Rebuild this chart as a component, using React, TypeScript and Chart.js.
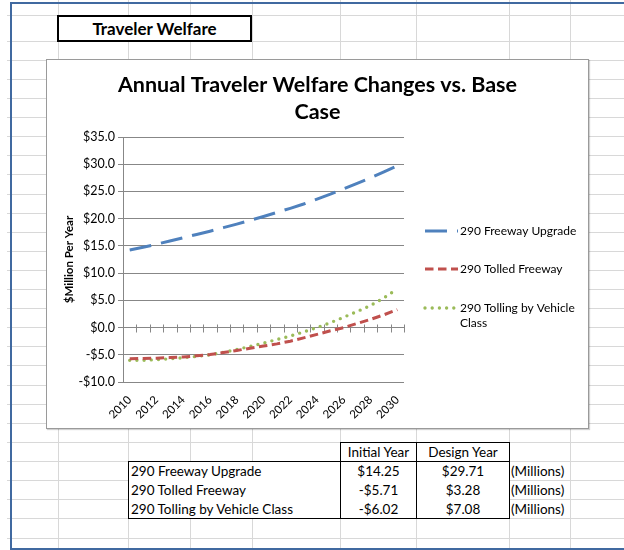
import React, { useEffect, useRef } from "react";
import { Chart, registerables } from "chart.js";

Chart.register(...registerables);

// ---------- data ----------
const years = [
  "2010", "2011", "2012", "2013", "2014", "2015", "2016", "2017", "2018", "2019", "2020",
  "2021", "2022", "2023", "2024", "2025", "2026", "2027", "2028", "2029", "2030",
];
const freewayUpgrade = [
  14.25, 14.75, 15.3, 15.9, 16.5, 17.1, 17.7, 18.35, 19.0, 19.7, 20.4,
  21.15, 21.9, 22.7, 23.6, 24.5, 25.5, 26.5, 27.5, 28.6, 29.71,
];
const tolledFreeway = [
  -5.71, -5.68, -5.62, -5.52, -5.4, -5.2, -4.95, -4.6, -4.2, -3.8, -3.4,
  -3.0, -2.5, -1.9, -1.25, -0.6, 0.0, 0.75, 1.5, 2.35, 3.28,
];
const tollingByVehicleClass = [
  -6.02, -6.0, -5.9, -5.75, -5.55, -5.3, -5.0, -4.55, -4.05, -3.45, -2.85,
  -2.2, -1.55, -0.8, 0.0, 0.9, 1.9, 2.95, 4.05, 5.45, 7.08,
];
const seriesNames = ["290 Freeway Upgrade", "290 Tolled Freeway", "290 Tolling by Vehicle Class"];
const initialYear = [14.25, -5.71, -6.02];
const designYear = [29.71, 3.28, 7.08];
const yMin = -10;
const yMax = 35;
const yStep = 5;
const chartTitle = ["Annual Traveler Welfare Changes vs. Base", "Case"];
const yAxisTitle = "$Million Per Year";
const sheetTitle = "Traveler Welfare";
const tableHeaders = ["Initial Year", "Design Year"];
const unitLabel = "(Millions)";

// ---------- styles ----------
const FONT = "Lato, 'Noto Sans', sans-serif";
const GRID = "#878787";
const seriesStyles = [
  { color: "#4F81BD", dash: [22, 10], cap: "butt" as CanvasLineCap, width: 3 },
  { color: "#C0504D", dash: [8.5, 4.5], cap: "butt" as CanvasLineCap, width: 3 },
  { color: "#9BBB59", dash: [0, 7.2], cap: "round" as CanvasLineCap, width: 3.4 },
];
const rowLines = [15, 41, 60, 79, 98, 117, 136, 155, 174, 194, 213, 232, 251, 270, 289, 308, 327, 346, 365, 385, 404, 423, 442, 461, 480, 499, 518, 538];
const colLines = [58, 128, 190, 252, 340, 416, 509, 570];

const money = (v: number, d: number) => (v < 0 ? "-$" : "$") + Math.abs(v).toFixed(d);

const titlePlugin = {
  id: "customTitle",
  afterDraw(chart: any) {
    const ctx = chart.ctx;
    ctx.save();
    ctx.fillStyle = "#000";
    ctx.font = `bold 21.5px ${FONT}`;
    ctx.textAlign = "center";
    ctx.textBaseline = "middle";
    chartTitle.forEach((t, i) => ctx.fillText(t, chart.width / 2, 25 + i * 27));
    ctx.restore();
  },
};

const zeroTicksPlugin = {
  id: "zeroTicks",
  beforeDatasetsDraw(chart: any) {
    const { ctx } = chart;
    const x = chart.scales.x;
    const y = chart.scales.y;
    const y0 = Math.round(y.getPixelForValue(0)) + 0.5;
    const n = years.length;
    const step = (x.right - x.left) / n;
    ctx.save();
    ctx.strokeStyle = GRID;
    ctx.lineWidth = 1;
    ctx.beginPath();
    for (let i = 1; i <= n; i++) {
      const px = Math.round(x.left + step * i) + 0.5;
      ctx.moveTo(px, y0 - 4);
      ctx.lineTo(px, y0 + 4);
    }
    ctx.stroke();
    ctx.restore();
  },
};

const legendPlugin = {
  id: "customLegend",
  afterDraw(chart: any) {
    const { ctx, chartArea } = chart;
    const x0 = chartArea.right + 21;
    const tx = chartArea.right + 56;
    const offsets = [94, 132, 171];
    ctx.save();
    ctx.font = `12px ${FONT}`;
    ctx.textBaseline = "middle";
    ctx.textAlign = "left";
    chart.data.datasets.forEach((ds: any, i: number) => {
      const y = chartArea.top + offsets[i];
      const st = seriesStyles[i];
      ctx.save();
      ctx.strokeStyle = st.color;
      ctx.lineWidth = st.width;
      ctx.lineCap = st.cap;
      ctx.setLineDash(st.dash);
      ctx.beginPath();
      ctx.moveTo(x0, y);
      ctx.lineTo(x0 + 33, y);
      ctx.stroke();
      ctx.restore();
      const words = String(ds.label).split(" ");
      const lines: string[] = [];
      let cur = "";
      words.forEach((w) => {
        const test = cur ? cur + " " + w : w;
        if (ctx.measureText(test).width > 124 && cur) {
          lines.push(cur);
          cur = w;
        } else cur = test;
      });
      if (cur) lines.push(cur);
      ctx.fillStyle = "#000";
      lines.forEach((l, k) => ctx.fillText(l, tx, y + k * 15));
    });
    ctx.restore();
  },
};

function ChartBox() {
  const ref = useRef<HTMLCanvasElement | null>(null);
  useEffect(() => {
    if (!ref.current) return;
    const series = [freewayUpgrade, tolledFreeway, tollingByVehicleClass];
    const chart = new Chart(ref.current, {
      type: "line",
      data: {
        labels: years,
        datasets: series.map((d, i) => ({
          label: seriesNames[i],
          data: d,
          borderColor: seriesStyles[i].color,
          backgroundColor: seriesStyles[i].color,
          borderWidth: seriesStyles[i].width,
          borderDash: seriesStyles[i].dash,
          borderCapStyle: seriesStyles[i].cap,
          pointRadius: 0,
          tension: 0,
          fill: false,
        })),
      },
      options: {
        animation: false,
        responsive: true,
        maintainAspectRatio: false,
        layout: { padding: { top: 77, right: 184, left: 0, bottom: 0 } },
        plugins: { legend: { display: false }, title: { display: false }, tooltip: { enabled: false } },
        scales: {
          x: {
            type: "category",
            offset: true,
            grid: { display: false },
            border: { display: false },
            ticks: {
              autoSkip: false,
              maxRotation: 45,
              minRotation: 45,
              padding: 3,
              color: "#000",
              font: { family: FONT, size: 11.5 },
              callback: (_v: any, idx: number) => (idx % 2 === 0 ? years[idx] : ""),
            },
            afterFit: (s: any) => {
              s.height = 46;
            },
          },
          y: {
            min: yMin,
            max: yMax,
            grid: { color: GRID, tickLength: 5, drawTicks: true },
            border: { display: true, color: GRID },
            ticks: {
              stepSize: yStep,
              padding: 3,
              color: "#000",
              font: { family: FONT, size: 12.5 },
              callback: (v: any) => money(Number(v), 1),
            },
            title: {
              display: true,
              text: yAxisTitle,
              color: "#000",
              font: { family: FONT, size: 11.5, weight: "bold" },
              padding: { top: 15, bottom: 0 },
            },
            afterFit: (s: any) => {
              s.width = 76;
            },
          },
        },
      },
      plugins: [titlePlugin, zeroTicksPlugin, legendPlugin],
    });
    return () => chart.destroy();
  }, []);
  return <canvas ref={ref} />;
}

const abs = (extra: React.CSSProperties): React.CSSProperties => ({ position: "absolute", ...extra });

export default function App() {
  const cellText: React.CSSProperties = { fontSize: 13.5, color: "#000", lineHeight: "19px", whiteSpace: "nowrap" };
  return (
    <div style={abs({ left: 0, top: 0, width: 624, height: 550, overflow: "hidden", background: "#fff", fontFamily: FONT })}>
      {rowLines.map((y) => (
        <div key={"r" + y} style={abs({ left: 7, top: y, width: 617, height: 1, background: "#d8d8d8" })} />
      ))}
      {colLines.map((x) => (
        <div key={"c" + x} style={abs({ left: x, top: 0, width: 1, height: 550, background: "#d8d8d8" })} />
      ))}
      <div style={abs({ left: 10, top: 2, width: 1000, height: 544, borderLeft: "2px solid #4069a0", borderTop: "2px solid #4069a0", borderBottom: "2px solid #4069a0" })} />
      <div style={abs({ left: 57, top: 15, width: 191, height: 23, border: "2px solid #000", background: "#fff", display: "flex", alignItems: "center", justifyContent: "center", fontWeight: 700, fontSize: 17 })}>
        {sheetTitle}
      </div>
      <div style={abs({ left: 46, top: 59, width: 541, height: 368, border: "1px solid #9a9a9a", background: "#fff", boxShadow: "1px 1px 1px rgba(0,0,0,0.18)" })}>
        <div style={{ position: "relative", width: 541, height: 368 }}>
          <ChartBox />
        </div>
      </div>
      {tableHeaders.map((h, i) => (
        <div key={h} style={abs({ left: i === 0 ? 340 : 416, top: 442, width: i === 0 ? 75 : 92, height: 18, border: "1px solid #000", background: "#fff", textAlign: "center", ...cellText, lineHeight: "18px" })}>
          {h}
        </div>
      ))}
      <div style={abs({ left: 128, top: 461, width: 380, height: 56, border: "1px solid #000", background: "#fff" })} />
      <div style={abs({ left: 340, top: 461, width: 1, height: 58, background: "#000" })} />
      <div style={abs({ left: 416, top: 461, width: 1, height: 58, background: "#000" })} />
      {seriesNames.map((name, i) => (
        <React.Fragment key={name}>
          <div style={abs({ left: 131, top: 462 + i * 19, ...cellText })}>{name}</div>
          <div style={abs({ left: 341, top: 462 + i * 19, width: 75, textAlign: "center", ...cellText })}>{money(initialYear[i], 2)}</div>
          <div style={abs({ left: 417, top: 462 + i * 19, width: 92, textAlign: "center", ...cellText })}>{money(designYear[i], 2)}</div>
          <div style={abs({ left: 511, top: 462 + i * 19, ...cellText })}>{unitLabel}</div>
        </React.Fragment>
      ))}
    </div>
  );
}
